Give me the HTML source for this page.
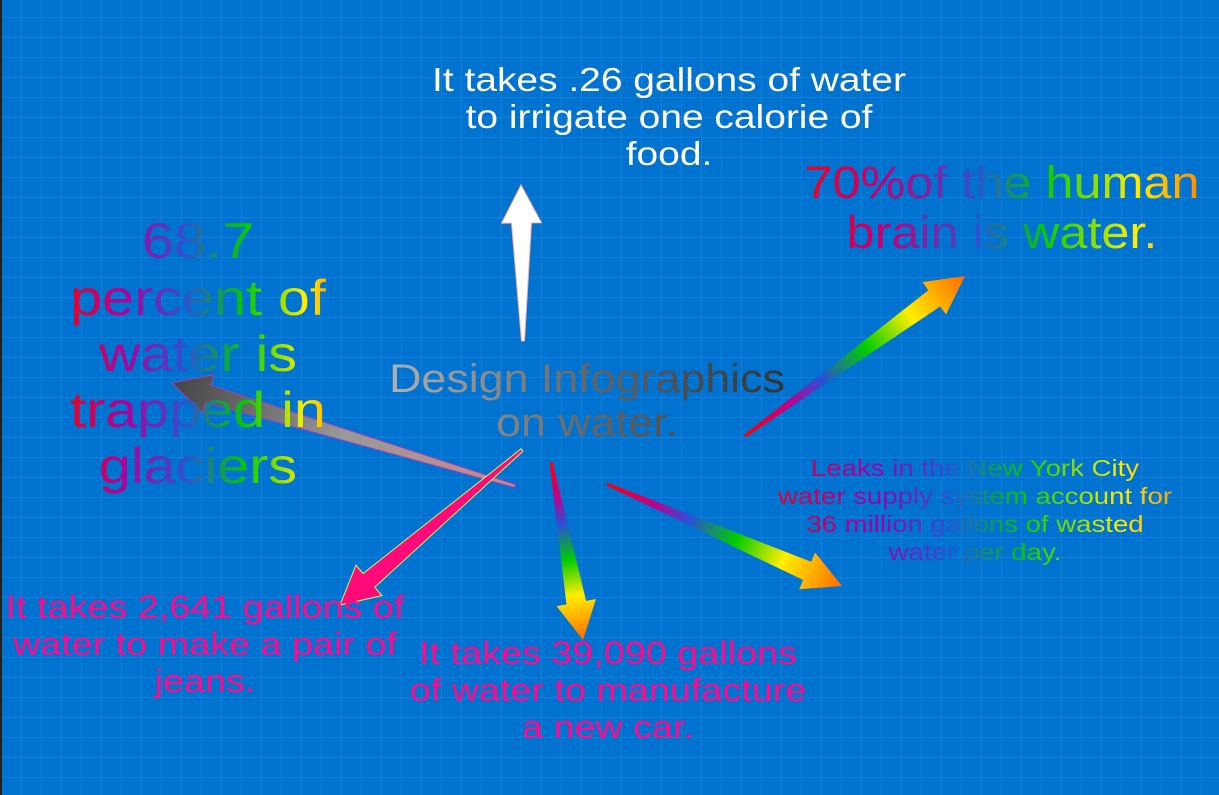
<!DOCTYPE html>
<html><head><meta charset="utf-8"><style>
html,body{margin:0;padding:0;width:1219px;height:795px;overflow:hidden;background:#0072d0}
svg{display:block;font-family:"Liberation Sans",Arial,sans-serif}
</style></head><body>
<svg id="s" width="1219" height="795" viewBox="0 0 1219 795">
<defs>
<pattern id="grid" width="20" height="20" patternUnits="userSpaceOnUse" x="2" y="-2">
<path d="M20 0V20M0 20H20" fill="none" stroke="#1d8ee6" stroke-width="1"/>
</pattern>
<linearGradient id="rb" x1="0" y1="0" x2="1" y2="0">
<stop offset="0" stop-color="#ff0000"/><stop offset="0.2" stop-color="#c0008a"/><stop offset="0.35" stop-color="#2a50d8"/><stop offset="0.55" stop-color="#00cc00"/><stop offset="0.75" stop-color="#ffee00"/><stop offset="1" stop-color="#ff6a00"/>
</linearGradient>
<linearGradient id="gray" x1="0" y1="0" x2="1" y2="0">
<stop offset="0" stop-color="#b0b0b0"/><stop offset="0.5" stop-color="#666"/><stop offset="1" stop-color="#333"/>
</linearGradient>
<linearGradient id="grayArrow" x1="0" y1="0" x2="1" y2="0">
<stop offset="0" stop-color="#c88"/><stop offset="0.5" stop-color="#999"/><stop offset="1" stop-color="#444"/>
</linearGradient>
<linearGradient id="t1" gradientUnits="userSpaceOnUse" x1="70" y1="0" x2="330" y2="0">
<stop offset="0" stop-color="#ff0000"/><stop offset="0.25" stop-color="#b0009a"/><stop offset="0.45" stop-color="#3050d0"/><stop offset="0.65" stop-color="#00cc00"/><stop offset="0.85" stop-color="#ffee00"/><stop offset="1" stop-color="#ff7700"/>
</linearGradient>
<linearGradient id="t2" gradientUnits="userSpaceOnUse" x1="800" y1="0" x2="1200" y2="0">
<stop offset="0" stop-color="#ff0000"/><stop offset="0.25" stop-color="#c0007a"/><stop offset="0.45" stop-color="#3050d0"/><stop offset="0.6" stop-color="#00cc00"/><stop offset="0.8" stop-color="#ffee00"/><stop offset="1" stop-color="#ff6600"/>
</linearGradient>
<linearGradient id="t3" gradientUnits="userSpaceOnUse" x1="775" y1="0" x2="1175" y2="0">
<stop offset="0" stop-color="#ff0000"/><stop offset="0.3" stop-color="#9a00b0"/><stop offset="0.45" stop-color="#3050d0"/><stop offset="0.6" stop-color="#00cc00"/><stop offset="0.8" stop-color="#ffee00"/><stop offset="1" stop-color="#ff6600"/>
</linearGradient>
</defs>
<rect width="1219" height="795" fill="#0072d0"/>
<rect width="1219" height="795" fill="url(#grid)"/>
<rect x="0" y="0" width="2" height="795" fill="#222"/>
<g id="arrows"></g>

<g transform="translate(669,0) scale(1.18,1) translate(-669,0)">
<text x="669" y="91" font-size="33" fill="#fff" text-anchor="middle"><tspan x="669">It takes .26 gallons of water</tspan><tspan x="669" y="128">to irrigate one calorie of</tspan><tspan x="669" y="165">food.</tspan></text>
</g>

<g transform="translate(1002,0) scale(1.12,1) translate(-1002,0)">
<text font-size="45" fill="url(#t2)" text-anchor="middle"><tspan x="1002" y="198">70%of the human</tspan><tspan x="1002" y="248">brain is water.</tspan></text>
</g>

<g transform="translate(198,0) scale(1.15,1) translate(-198,0)">
<text font-size="50" fill="url(#t1)" text-anchor="middle"><tspan x="198" y="258">68.7</tspan><tspan x="198" y="315">percent of</tspan><tspan x="198" y="371">water is</tspan><tspan x="198" y="427">trapped in</tspan><tspan x="198" y="483">glaciers</tspan></text>
</g>

<g transform="translate(587,0) scale(1.12,1) translate(-587,0)">
<text font-size="40" fill="url(#gray)" text-anchor="middle"><tspan x="587" y="392">Design Infographics</tspan><tspan x="587" y="436">on water.</tspan></text>
</g>

<g transform="translate(975,0) scale(1.2,1) translate(-975,0)">
<text font-size="23" fill="url(#t3)" text-anchor="middle"><tspan x="975" y="476">Leaks in the New York City</tspan><tspan x="975" y="504">water supply system account for</tspan><tspan x="975" y="532">36 million gallons of wasted</tspan><tspan x="975" y="560">water per day.</tspan></text>
</g>

<g transform="translate(205,0) scale(1.18,1) translate(-205,0)">
<text font-size="32" fill="#ff0a8c" text-anchor="middle"><tspan x="205" y="618">It takes 2,641 gallons of</tspan><tspan x="205" y="655">water to make a pair of</tspan><tspan x="205" y="692">jeans.</tspan></text>
</g>

<g transform="translate(608,0) scale(1.18,1) translate(-608,0)">
<text font-size="32" fill="#ff0a8c" text-anchor="middle"><tspan x="608" y="664">It takes 39,090 gallons</tspan><tspan x="608" y="701">of water to manufacture</tspan><tspan x="608" y="738">a new car.</tspan></text>
</g>
</svg>
<script>
const arrowNames=['calorie-arrow','glacier-arrow','jeans-arrow','car-arrow','leaks-arrow','brain-arrow'];
const tails=[[523,341],[515,486],[522,450],[551,462],[607,484],[745,436]];
const tips=[[521,185],[172,383],[340,605],[583,640],[842,586],[965,276]];
const fills=['#ffffff','url(#grayArrow)','#ff0a78','url(#rb)','url(#rb)','url(#rb)'];
const strokes=['#ffb0a0','#a040c0','#c0ff60','none','none','none'];
const g=document.getElementById('arrows');
const NS='http://www.w3.org/2000/svg';
for(let i=0;i<tails.length;i++){
  const [x1,y1]=tails[i],[x2,y2]=tips[i];
  const dx=x2-x1,dy=y2-y1,L=Math.hypot(dx,dy);
  const ang=Math.atan2(dy,dx)*180/Math.PI;
  const hl=38,hw=20,w0=1.5,w1=i==1||i==2?9:10;
  const p=document.createElementNS(NS,'polygon');
  p.setAttribute('points',`0,${-w0} ${L-hl},${-w1} ${L-hl},${-hw} ${L},0 ${L-hl},${hw} ${L-hl},${w1} 0,${w0}`);
  p.setAttribute('transform',`translate(${x1},${y1}) rotate(${ang})`);
  p.setAttribute('fill',fills[i]);
  if(strokes[i]!=='none'){p.setAttribute('stroke',strokes[i]);p.setAttribute('stroke-width','1');}
  
  
  g.appendChild(p);
}
</script>
</body></html>
